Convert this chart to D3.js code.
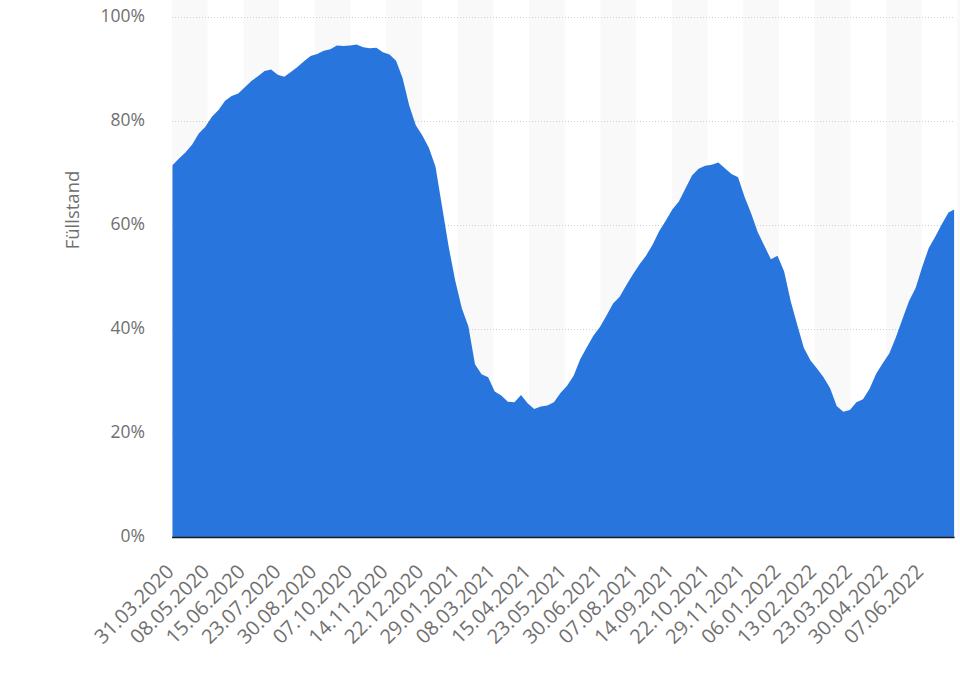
<!DOCTYPE html>
<html>
<head>
<meta charset="utf-8">
<script src="https://cdn.jsdelivr.net/npm/d3@7/dist/d3.min.js"></script>
<style>
  html, body { margin: 0; padding: 0; background: #fff; }
  svg { display: block; }
  text { font-family: "Open Sans", "DejaVu Sans", sans-serif; }
</style>
</head>
<body>
<svg id="chart" width="960" height="674"></svg>
<script>
// ---- data ----
const yAxisTitle = "Füllstand";
const firstDay = "2020-03-31";   // first daily observation
const lastDay = "2022-07-11";    // last daily observation
const stepDays = 7;              // readings taken once a week, plus the last day
// Fill level in % (weekly readings from 31.03.2020, last value = 11.07.2022)
const fillLevel = [
  71.5, 72.8, 74.0, 75.5, 77.6, 78.9, 80.8, 82.1, 83.9, 84.8,
  85.3, 86.5, 87.7, 88.6, 89.6, 89.9, 88.9, 88.5, 89.4, 90.4,
  91.5, 92.5, 92.9, 93.5, 93.8, 94.5, 94.4, 94.5, 94.7, 94.2,
  94.0, 94.1, 93.2, 92.8, 91.6, 88.2, 83.0, 79.2, 77.2, 74.8,
  71.2, 63.5, 55.8, 49.3, 44.0, 40.5, 33.2, 31.3, 30.7, 28.0,
  27.2, 26.0, 25.9, 27.3, 25.7, 24.6, 25.1, 25.3, 25.9, 27.7,
  29.1, 31.0, 34.2, 36.5, 38.7, 40.4, 42.6, 44.9, 46.2, 48.4,
  50.5, 52.4, 54.1, 56.2, 58.8, 60.8, 63.0, 64.5, 67.0, 69.5,
  70.8, 71.4, 71.6, 72.0, 70.9, 69.8, 69.2, 65.4, 62.2, 58.6,
  56.0, 53.4, 54.1, 51.1, 45.4, 40.8, 36.4, 34.0, 32.4, 30.7,
  28.6, 25.2, 24.1, 24.4, 25.9, 26.5, 28.5, 31.4, 33.4, 35.3,
  38.4, 41.9, 45.4, 47.9, 51.9, 55.6, 57.8, 60.2, 62.4, 63.0
];
const xTickLabels = [
  "31.03.2020", "08.05.2020", "15.06.2020", "23.07.2020", "30.08.2020",
  "07.10.2020", "14.11.2020", "22.12.2020", "29.01.2021", "08.03.2021",
  "15.04.2021", "23.05.2021", "30.06.2021", "07.08.2021", "14.09.2021",
  "22.10.2021", "29.11.2021", "06.01.2022", "13.02.2022", "23.03.2022",
  "30.04.2022", "07.06.2022"
];
const yTicks = [0, 20, 40, 60, 80, 100];

// ---- build ----
(function () {
const parseIso = d3.utcParse("%Y-%m-%d");
const parseLabel = d3.utcParse("%d.%m.%Y");
const start = parseIso(firstDay);
const end = parseIso(lastDay);
const series = fillLevel.map((v, i) => ({
  date: i === fillLevel.length - 1 ? end : d3.utcDay.offset(start, i * stepDays),
  value: v
}));

const svg = d3.select("#chart");
const mLeft = 172, mRight = 954.6, mTop = 17, mBottom = 537;

const x = d3.scaleUtc()
  .domain([d3.utcHour.offset(start, -12), d3.utcHour.offset(end, 12)])
  .range([mLeft, mRight]);
const y = d3.scaleLinear().domain([0, 100]).range([mBottom, mTop]);

// alternating plot bands, one per label interval
const tickDates = xTickLabels.map(parseLabel);
const bandDays = d3.utcDay.count(tickDates[0], tickDates[1]);
const bandStarts = d3.range(0, 24).map(k => d3.utcHour.offset(d3.utcDay.offset(start, k * bandDays), -12));
svg.append("g").selectAll("rect")
  .data(bandStarts.filter((d, k) => k % 2 === 0))
  .join("rect")
  .attr("x", d => x(d))
  .attr("y", 0)
  .attr("width", d => Math.max(0, Math.min(960, x(d3.utcDay.offset(d, bandDays))) - x(d)))
  .attr("height", mBottom)
  .attr("fill", "#f9f9f9");

// gridlines
svg.append("g").selectAll("line")
  .data(yTicks.filter(t => t > 0))
  .join("line")
  .attr("x1", mLeft).attr("x2", 953)
  .attr("y1", d => Math.round(y(d)) + 0.5).attr("y2", d => Math.round(y(d)) + 0.5)
  .attr("stroke", "#cfcfcf")
  .attr("stroke-width", 1)
  .attr("stroke-dasharray", "1,2");

// area
const area = d3.area()
  .x(d => x(d.date))
  .y0(y(0))
  .y1(d => y(d.value))
  .curve(d3.curveLinear);
svg.append("path")
  .datum(series)
  .attr("d", area)
  .attr("fill", "#2876dd");

// baseline axis
svg.append("line")
  .attr("x1", mLeft).attr("x2", mRight)
  .attr("y1", mBottom + 0.5).attr("y2", mBottom + 0.5)
  .attr("stroke", "#1a1a1a").attr("stroke-width", 1.5);

// y labels
svg.append("g").selectAll("text")
  .data(yTicks)
  .join("text")
  .attr("x", 145)
  .attr("y", d => y(d) - 1)
  .attr("dy", "0.35em")
  .attr("text-anchor", "end")
  .attr("fill", "#707070")
  .attr("font-size", 17.5)
  .text(d => d + "%");

// y title
svg.append("text")
  .attr("transform", "translate(79,210) rotate(-90)")
  .attr("text-anchor", "middle")
  .attr("fill", "#707070")
  .attr("font-size", 18.5)
  .text(yAxisTitle);

// x labels
svg.append("g").selectAll("text")
  .data(xTickLabels)
  .join("text")
  .attr("transform", d => `translate(${x(parseLabel(d)) + 2.5},${mBottom + 36}) rotate(-45)`)
  .attr("text-anchor", "end")
  .attr("fill", "#707070")
  .attr("font-size", 20)
  .text(d => d);
})();
</script>
</body>
</html>
